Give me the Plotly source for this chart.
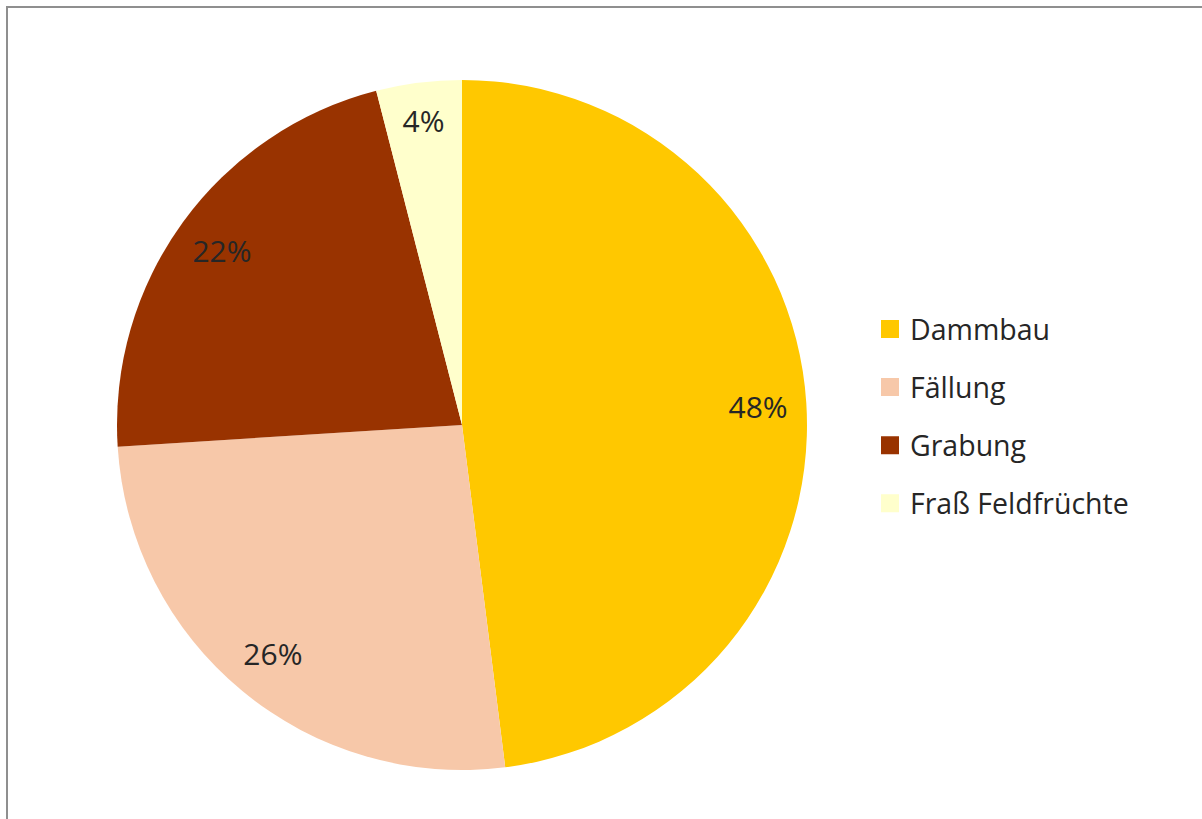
import plotly.graph_objects as go

categories = ["Dammbau", "Fällung", "Grabung", "Fraß Feldfrüchte"]
values = [48, 26, 22, 4]
colors = ["#FFC800", "#F7C8A9", "#993300", "#FFFFCC"]

W, H = 1202, 819
FONT = "Open Sans"
TXT = "#262626"

# pie geometry (pixels)
cx, cy, R = 462, 425, 345
dom_x = [(cx - R) / W, (cx + R) / W]
dom_y = [1 - (cy + R) / H, 1 - (cy - R) / H]

fig = go.Figure()

# coloured slices
fig.add_trace(go.Pie(
    labels=categories, values=values, sort=False, direction="clockwise", rotation=0,
    marker=dict(colors=colors, line=dict(width=0)),
    textinfo="none", hoverinfo="label+percent", showlegend=False,
    domain=dict(x=dom_x, y=dom_y),
))

# transparent ring used only to place percent labels near the rim
fig.add_trace(go.Pie(
    labels=categories, values=values, sort=False, direction="clockwise", rotation=0,
    hole=0.72,
    marker=dict(colors=["rgba(0,0,0,0)"] * len(values), line=dict(width=0)),
    texttemplate="%{percent:.0%}", textposition="inside", insidetextorientation="horizontal",
    textfont=dict(family=FONT, size=30, color=TXT),
    hoverinfo="skip", showlegend=False,
    domain=dict(x=dom_x, y=dom_y),
))

# legend entries
for name, col in zip(categories, colors):
    fig.add_trace(go.Scatter(
        x=[None], y=[None], mode="markers", name=name, legendgroup=name,
        marker=dict(symbol="square", size=16, color=col, line=dict(color=col, width=2)),
    ))

fig.update_layout(
    width=W, height=H,
    margin=dict(l=0, r=0, t=0, b=0),
    paper_bgcolor="white", plot_bgcolor="white",
    xaxis=dict(visible=False), yaxis=dict(visible=False),
    legend=dict(
        x=870 / W, y=1 - 304 / H, xanchor="left", yanchor="top",
        font=dict(family=FONT, size=28.5, color=TXT),
        traceorder="grouped", tracegroupgap=18, itemwidth=30,
        bgcolor="rgba(0,0,0,0)",
    ),
    shapes=[dict(
        type="rect", xref="paper", yref="paper",
        x0=7 / W, y0=-0.05, x1=1.05, y1=1 - 7 / H,
        line=dict(color="#8f8f8f", width=2), fillcolor="rgba(0,0,0,0)",
    )],
)

fig.write_html("out.html", config={"displayModeBar": False},
               post_script="document.body.style.margin='0px';")
